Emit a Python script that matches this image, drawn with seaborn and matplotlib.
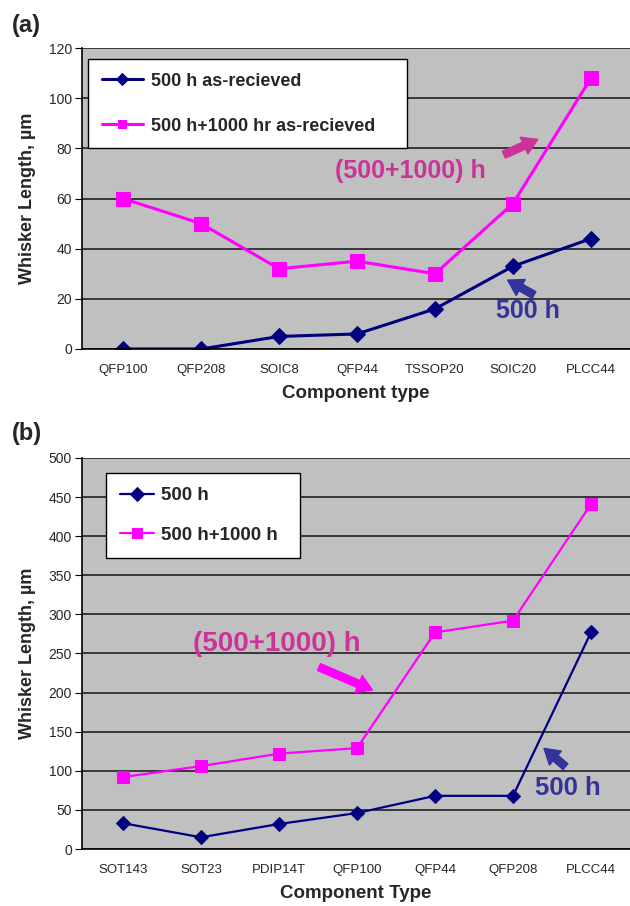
import numpy as np
import pandas as pd
import matplotlib
matplotlib.use("Agg")
import matplotlib.pyplot as plt
from matplotlib.ticker import FixedLocator
import seaborn as sns

# panel (a)
comp_a = ["QFP100", "QFP208", "SOIC8", "QFP44", "TSSOP20", "SOIC20", "PLCC44"]
len_500_a = [0, 0, 5, 6, 16, 33, 44]
len_1500_a = [60, 50, 32, 35, 30, 58, 108]

# panel (b)
comp_b = ["SOT143", "SOT23", "PDIP14T", "QFP100", "QFP44", "QFP208", "PLCC44"]
len_500_b = [33, 15, 32, 46, 68, 68, 277]
len_1500_b = [92, 106, 122, 129, 277, 292, 441]

NAVY = "#000080"
MAG = "#ff00ff"
TXT_MAG = "#cc3399"
TXT_BLUE = "#333399"

sns.set_style("white")
plt.rcParams["font.family"] = ["Liberation Sans", "DejaVu Sans"]

fig = plt.figure(figsize=(6.3, 9.06), dpi=100)
ax_a = fig.add_axes([0.1297, 0.6148, 0.8703, 0.3322])
ax_b = fig.add_axes([0.1297, 0.0629, 0.8703, 0.4316])


def draw_panel(ax, comps, s1, s2, lab1, lab2, ymax, ystep, xlabel, lw, ms):
    df = pd.DataFrame({"pos": np.arange(len(comps)), "s1": s1, "s2": s2})
    ax.set_facecolor("#c0c0c0")
    sns.lineplot(data=df, x="pos", y="s1", ax=ax, color=NAVY, marker="D",
                 markersize=ms, markeredgecolor=NAVY, linewidth=lw, label=lab1)
    sns.lineplot(data=df, x="pos", y="s2", ax=ax, color=MAG, marker="s",
                 markersize=ms + 1.5, markeredgecolor=MAG, linewidth=lw, label=lab2)
    ax.set_xlim(-0.53, len(comps) - 0.5)
    ax.set_ylim(0, ymax)
    ax.set_yticks(np.arange(0, ymax + 1, ystep))
    ax.yaxis.grid(True, color="#202020", linewidth=1.2)
    ax.set_axisbelow(True)
    ax.set_xticks(np.arange(len(comps)))
    ax.set_xticklabels(comps, fontsize=9.5)
    ax.xaxis.set_minor_locator(FixedLocator(np.arange(-0.5, len(comps), 1)))
    ax.tick_params(axis="x", which="major", length=0, pad=11)
    ax.tick_params(axis="x", which="minor", length=4, color="black", direction="out")
    ax.tick_params(axis="y", length=5, color="black", direction="out", labelsize=10,
                   left=True, pad=2)
    for side in ["top", "right"]:
        ax.spines[side].set_visible(False)
    for side in ["left", "bottom"]:
        ax.spines[side].set_color("black")
        ax.spines[side].set_linewidth(1.2)
    ax.set_xlabel(xlabel, fontsize=13.5, fontweight="bold", labelpad=6)
    ax.set_ylabel("Whisker Length, µm", fontsize=13, fontweight="bold", labelpad=9)


draw_panel(ax_a, comp_a, len_500_a, len_1500_a, "500 h as-recieved",
           "500 h+1000 hr as-recieved", 120, 20, "Component type", 2.2, 8)
draw_panel(ax_b, comp_b, len_500_b, len_1500_b, "500 h", "500 h+1000 h",
           500, 50, "Component Type", 1.6, 7.5)

leg = ax_a.legend(loc="upper left", bbox_to_anchor=(0.0115, 0.0, 0.582, 0.9635),
                  mode="expand", borderaxespad=0,
                  frameon=True, fancybox=False, framealpha=1, edgecolor="black",
                  borderpad=0.75, labelspacing=1.55, handlelength=2.3, handletextpad=0.45,
                  prop={"weight": "bold", "size": 13})
leg.get_frame().set_linewidth(1)
for h in leg.legend_handles:
    h.set_markersize(6)
leg = ax_b.legend(loc="upper left", bbox_to_anchor=(0.0443, 0.0, 0.354, 0.9616),
                  mode="expand", borderaxespad=0,
                  frameon=True, fancybox=False, framealpha=1, edgecolor="black",
                  borderpad=0.75, labelspacing=1.2, handlelength=1.8, handletextpad=0.4,
                  prop={"weight": "bold", "size": 13.5})
leg.get_frame().set_linewidth(1)
for h in leg.legend_handles:
    h.set_markersize(7)

arrow_kw = dict(arrowstyle="simple,head_width=1.1,head_length=0.9,tail_width=0.45",
                mutation_scale=12)

# annotations panel (a)
ax_a.text(3.68, 71, "(500+1000) h", color=TXT_MAG, fontsize=18, fontweight="bold",
          ha="center", va="center")
ax_a.annotate("", xy=(5.35, 84), xytext=(4.85, 77),
              arrowprops=dict(color=TXT_MAG, **arrow_kw))
ax_a.text(5.19, 15, "500 h", color=TXT_BLUE, fontsize=18, fontweight="bold",
          ha="center", va="center")
ax_a.annotate("", xy=(4.9, 28), xytext=(5.3, 21),
              arrowprops=dict(color=TXT_BLUE, **arrow_kw))

# annotations panel (b)
ax_b.text(1.97, 262, "(500+1000) h", color=TXT_MAG, fontsize=20, fontweight="bold",
          ha="center", va="center")
ax_b.annotate("", xy=(3.23, 202), xytext=(2.48, 234),
              arrowprops=dict(color=MAG, **arrow_kw))
ax_b.text(5.7, 78, "500 h", color=TXT_BLUE, fontsize=18.5, fontweight="bold",
          ha="center", va="center")
ax_b.annotate("", xy=(5.37, 131), xytext=(5.7, 103),
              arrowprops=dict(color=TXT_BLUE, **arrow_kw))

fig.text(0.019, 0.9724, "(a)", fontsize=17, fontweight="bold", va="center")
fig.text(0.019, 0.522, "(b)", fontsize=17, fontweight="bold", va="center")

fig.savefig("out.png", dpi=100)
